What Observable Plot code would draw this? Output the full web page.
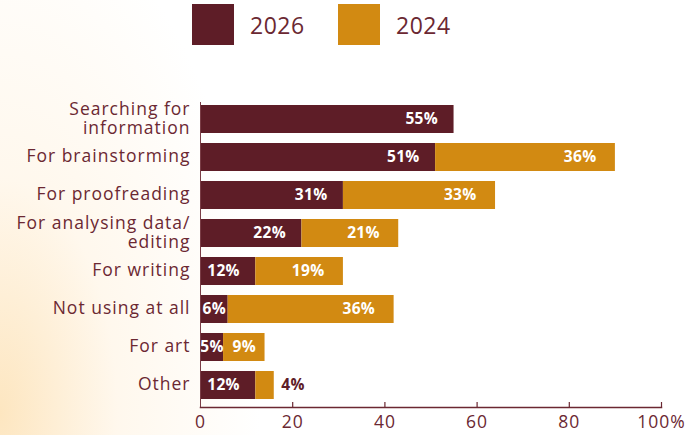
<!DOCTYPE html>
<html>
<head>
<meta charset="utf-8">
<script src="https://cdn.jsdelivr.net/npm/d3@7"></script>
<script src="https://cdn.jsdelivr.net/npm/@observablehq/plot@0.6"></script>
<style>
  html, body { margin: 0; padding: 0; }
  body {
    width: 685px; height: 435px; overflow: hidden;
    background: radial-gradient(ellipse 260px 520px at 0% 95%, #fde6c0 0%, rgba(255,243,225,0.6) 45%, rgba(255,255,255,0) 100%), #ffffff;
    font-family: "Open Sans", sans-serif;
  }
  #legend { height: 50px; position: relative; }
  .item { position: absolute; top: 4px; display: flex; align-items: center; }
  .sw { width: 42px; height: 41px; margin-right: 16px; }
  .lt { font-size: 23px; color: #6b2832; letter-spacing: 0.5px; }
  #chart svg [aria-label="y-axis tick label"] text,
  #chart svg [aria-label="x-axis tick label"] text { letter-spacing: 1px; }
  #chart svg g[aria-label="text"] text { letter-spacing: 0.3px; }
</style>
</head>
<body>
<div id="legend"></div>
<div id="chart"></div>
<script>
const categories = ["Searching for\ninformation", "For brainstorming", "For proofreading", "For analysing data/\nediting", "For writing", "Not using at all", "For art", "Other"];
const years = ["2026", "2024"];
const values2026 = [55, 51, 31, 22, 12, 6, 5, 12];
const values2024 = [0, 39, 33, 21, 19, 36, 9, 4];
const labels2026 = ["55%", "51%", "31%", "22%", "12%", "6%", "5%", "12%"];
const labels2024 = ["", "36%", "33%", "21%", "19%", "36%", "9%", "4%"];
const xTicks = [0, 20, 40, 60, 80, 100];
const xTickLabels = ["0", "20", "40", "60", "80", "100%"];

const maroon = "#5e1d27";
const orange = "#d28a12";
const textColor = "#6b2832";
const colors = {"2026": maroon, "2024": orange};

// legend
const legend = document.getElementById("legend");
const legendX = [192, 338];
years.forEach((y, i) => {
  const item = document.createElement("div");
  item.className = "item";
  item.style.left = legendX[i] + "px";
  item.innerHTML = `<div class="sw" style="background:${colors[y]}"></div><div class="lt">${y}</div>`;
  legend.appendChild(item);
});

// segments
const segs = [];
categories.forEach((c, i) => {
  segs.push({cat: c, year: "2026", x1: 0, x2: values2026[i], v: values2026[i], label: labels2026[i]});
  if (values2024[i] > 0) {
    segs.push({cat: c, year: "2024", x1: values2026[i], x2: values2026[i] + values2024[i], v: values2024[i], label: labels2024[i]});
  }
});
segs.forEach(d => d.mid = (d.x1 + d.x2) / 2);

const big26 = segs.filter(d => d.year === "2026" && d.v >= 10);
const big24 = segs.filter(d => d.year === "2024" && d.v >= 10);
const mid = segs.filter(d => d.v >= 5 && d.v < 10);
const small = segs.filter(d => d.v < 5);

const frameH = 385 - 52 - 28;

const chart = Plot.plot({
  width: 685,
  height: 385,
  marginTop: 52,
  marginBottom: 28,
  marginLeft: 200,
  marginRight: 24,
  style: {background: "transparent", fontFamily: "Open Sans, sans-serif", color: textColor},
  x: {domain: [0, 100], axis: null},
  y: {domain: categories, paddingInner: 0.26, paddingOuter: 0, insetBottom: 5, axis: null},
  color: {domain: years, range: [maroon, orange]},
  marks: [
    Plot.barX(segs, {x1: "x1", x2: "x2", y: "cat", fill: d => colors[d.year]}),
    Plot.text(big26, {x: "x2", y: "cat", text: "label", textAnchor: "end", dx: -16, fill: "white", fontWeight: "bold", fontSize: 15.5}),
    Plot.text(big24, {x: "x2", y: "cat", text: "label", textAnchor: "end", dx: -19, fill: "white", fontWeight: "bold", fontSize: 15.5}),
    Plot.text(mid, {x: "mid", y: "cat", text: "label", textAnchor: "middle", fill: "white", fontWeight: "bold", fontSize: 15.5}),
    Plot.text(small, {x: "x2", y: "cat", text: "label", textAnchor: "start", dx: 7, fill: maroon, fontWeight: "bold", fontSize: 15.5}),
    Plot.ruleX([0], {stroke: "#7a3d46", strokeWidth: 1}),
    Plot.ruleX(xTicks.filter(t => t > 0), {stroke: textColor, strokeWidth: 1.2, insetTop: frameH - 5}),
    Plot.frame({anchor: "bottom", stroke: textColor, strokeWidth: 1.5}),
    Plot.axisY({tickSize: 0, tickPadding: 10, fontSize: 17.5, fill: textColor, label: null, lineHeight: 1.08, dy: -1.5}),
    Plot.axisX(xTicks, {tickSize: 0, tickPadding: 8, fontSize: 17.5, fill: textColor, label: null, tickFormat: d => xTickLabels[xTicks.indexOf(d)]})
  ]
});
document.getElementById("chart").appendChild(chart);
</script>
</body>
</html>
